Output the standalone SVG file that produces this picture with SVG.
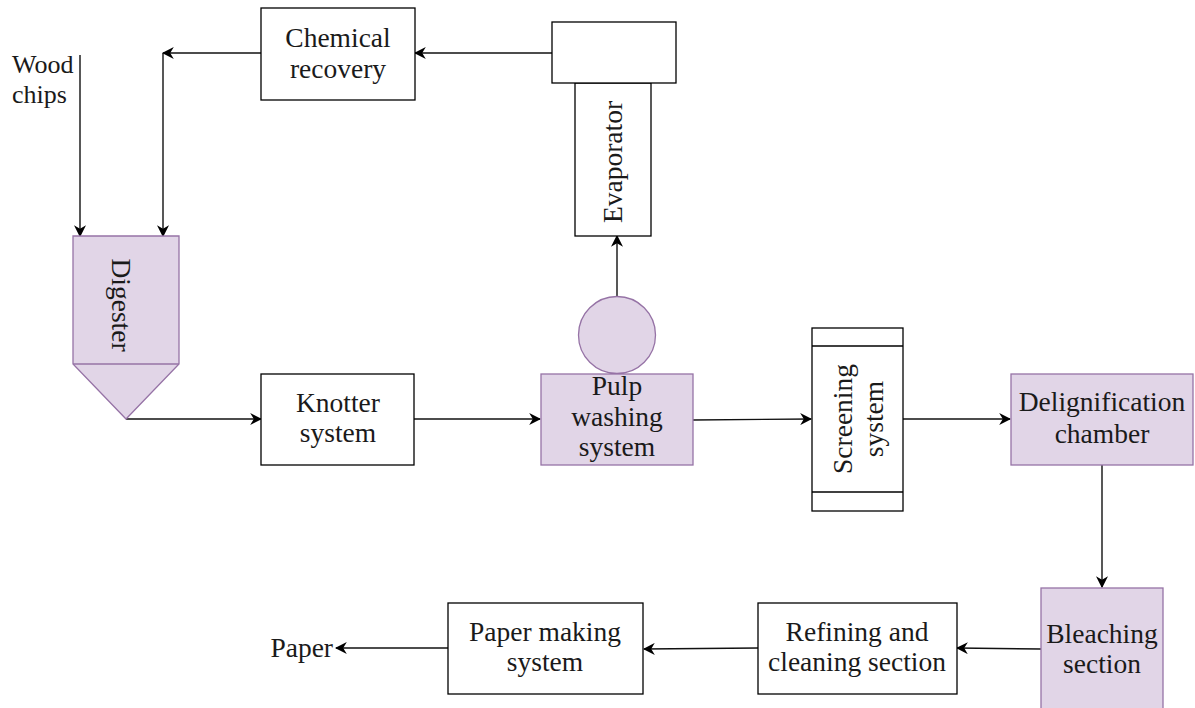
<svg xmlns="http://www.w3.org/2000/svg" width="1195" height="708" viewBox="0 0 1195 708">
<defs>
<marker id="arr" viewBox="0 0 10 10" refX="9" refY="5" markerWidth="12" markerHeight="12" markerUnits="userSpaceOnUse" orient="auto">
<path d="M0,0 L10,5 L0,10 L3,5 Z" fill="#000"/>
</marker>
</defs>
<style>
.box{fill:#fff;stroke:#000;stroke-width:1.3}
.pur{fill:#e1d5e7;stroke:#9673a6;stroke-width:1.3}
.t{font-family:"Liberation Serif","Times New Roman",serif;font-size:27.5px;fill:#1a1a1a;text-anchor:middle}
.ln{fill:none;stroke:#111;stroke-width:1.4}
</style>
<rect width="1195" height="708" fill="#fff"/>
<g id="connectors">
<path class="ln" d="M80,55 V236" marker-end="url(#arr)"/>
<path class="ln" d="M261,53 H163" marker-end="url(#arr)"/>
<path class="ln" d="M163,53 V236" marker-end="url(#arr)"/>
<path class="ln" d="M552,53 H415" marker-end="url(#arr)"/>
<path class="ln" d="M617,296 V236" marker-end="url(#arr)"/>
<path class="ln" d="M126,419 H261" marker-end="url(#arr)"/>
<path class="ln" d="M414,419 H540" marker-end="url(#arr)"/>
<path class="ln" d="M693,420 L811,419" marker-end="url(#arr)"/>
<path class="ln" d="M903,419 H1010" marker-end="url(#arr)"/>
<path class="ln" d="M1102,465 V587" marker-end="url(#arr)"/>
<path class="ln" d="M1041,649 L957,648" marker-end="url(#arr)"/>
<path class="ln" d="M758,648 L644,649" marker-end="url(#arr)"/>
<path class="ln" d="M448,648 H336" marker-end="url(#arr)"/>
</g>
<g id="wood-chips">
<text class="t" x="12" y="73" style="text-anchor:start;font-size:26px">Wood</text>
<text class="t" x="12" y="103" style="text-anchor:start;font-size:26px">chips</text>
</g>
<g id="chemical-recovery">
<rect class="box" x="261" y="8" width="154" height="92"/>
<text class="t" x="338" y="47">Chemical</text>
<text class="t" x="338" y="78">recovery</text>
</g>
<g id="evaporator">
<rect class="box" x="575" y="83" width="76" height="153"/>
<rect class="box" x="552" y="22" width="124" height="61"/>
<text class="t" transform="translate(622,162) rotate(-90)">Evaporator</text>
</g>
<g id="digester">
<path class="pur" d="M73,236 H179 V364 L126,419 L73,364 Z"/>
<line x1="73" y1="364" x2="179" y2="364" stroke="#9673a6" stroke-width="1.3"/>
<text class="t" transform="translate(112,305) rotate(90)">Digester</text>
</g>
<g id="knotter">
<rect class="box" x="261" y="374" width="153" height="91"/>
<text class="t" x="338" y="412">Knotter</text>
<text class="t" x="338" y="442">system</text>
</g>
<g id="pulp-washing">
<circle class="pur" cx="617" cy="335" r="38.5"/>
<rect class="pur" x="541" y="374" width="152" height="91"/>
<text class="t" x="617" y="395">Pulp</text>
<text class="t" x="617" y="426">washing</text>
<text class="t" x="617" y="456">system</text>
</g>
<g id="screening">
<rect class="box" x="812" y="328" width="91" height="183"/>
<line x1="812" y1="346" x2="903" y2="346" stroke="#000" stroke-width="1.3"/>
<line x1="812" y1="492" x2="903" y2="492" stroke="#000" stroke-width="1.3"/>
<text class="t" transform="translate(852,419) rotate(-90)">Screening</text>
<text class="t" transform="translate(883,419) rotate(-90)">system</text>
</g>
<g id="delignification">
<rect class="pur" x="1011" y="374" width="182" height="91"/>
<text class="t" x="1102" y="411">Delignification</text>
<text class="t" x="1102" y="443">chamber</text>
</g>
<g id="bleaching">
<rect class="pur" x="1041" y="588" width="122" height="130"/>
<text class="t" x="1102" y="643">Bleaching</text>
<text class="t" x="1102" y="673">section</text>
</g>
<g id="refining">
<rect class="box" x="758" y="603" width="199" height="91"/>
<text class="t" x="857" y="641">Refining and</text>
<text class="t" x="857" y="671">cleaning section</text>
</g>
<g id="paper-making">
<rect class="box" x="448" y="603" width="195" height="91"/>
<text class="t" x="545" y="641">Paper making</text>
<text class="t" x="545" y="671">system</text>
</g>
<g id="paper">
<text class="t" x="333" y="657" style="text-anchor:end">Paper</text>
</g>
</svg>
